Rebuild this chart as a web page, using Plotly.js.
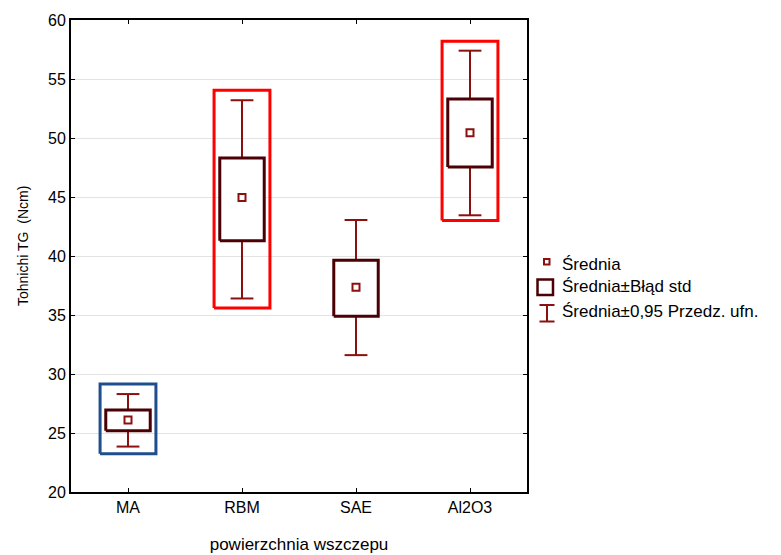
<!DOCTYPE html>
<html>
<head>
<meta charset="utf-8">
<script src="https://cdn.plot.ly/plotly-3.0.1.min.js"></script>
<style>html,body{margin:0;padding:0;background:#fff;}#chart{width:781px;height:555px;}</style>
</head>
<body>
<div id="chart"></div>
<script>
// ---- data ----
const categories = ['MA', 'RBM', 'SAE', 'Al2O3'];
const means  = [26.1, 44.95, 37.35, 50.45];
const seLow  = [25.2, 41.3, 34.9, 47.55];
const seHigh = [26.95, 48.3, 39.65, 53.3];
const ciLow  = [23.85, 36.4, 31.6, 43.45];
const ciHigh = [28.3, 53.2, 43.05, 57.4];
// highlighted groups (frames)
const hlCats = ['MA', 'RBM', 'Al2O3'];
const hlLow  = [23.25, 35.6, 43.0];
const hlHigh = [29.15, 54.05, 58.2];
const legendLabels = ['Średnia', 'Średnia±Błąd std', 'Średnia±0,95 Przedz. ufn.'];
const yTicks = [20, 25, 30, 35, 40, 45, 50, 55, 60];
const xTitle = 'powierzchnia wszczepu';
const yTitle = 'Tohnichi TG  (Ncm)';

// ---- styles ----
const whiskerColor = '#8b1010';
const boxColor = '#4a0005';
const meanColor = '#8b1010';
const hlColors = {MA: '#1f4e8c', RBM: '#ff0000', Al2O3: '#ff0000'};
const boxHalf = 0.195, capHalf = 0.1, hlHalf = 0.245;
const FONT = 'Liberation Sans, Arial, sans-serif';

const idx = categories.map((c, i) => i);

// whiskers
const wx = [], wy = [];
idx.forEach(i => {
  wx.push(i, i, null, i - capHalf, i + capHalf, null, i - capHalf, i + capHalf, null);
  wy.push(ciLow[i], ciHigh[i], null, ciHigh[i], ciHigh[i], null, ciLow[i], ciLow[i], null);
});
// boxes
const bx = [], by = [];
idx.forEach(i => {
  bx.push(i - boxHalf, i + boxHalf, i + boxHalf, i - boxHalf, i - boxHalf, null);
  by.push(seLow[i], seLow[i], seHigh[i], seHigh[i], seLow[i], null);
});

const traces = [
  {x: wx, y: wy, type: 'scatter', mode: 'lines', line: {color: whiskerColor, width: 2}, hoverinfo: 'skip', showlegend: false},
  {x: bx, y: by, type: 'scatter', mode: 'lines', fill: 'toself', fillcolor: '#ffffff', line: {color: boxColor, width: 3}, hoverinfo: 'skip', showlegend: false},
  {x: idx, y: means, type: 'scatter', mode: 'markers', marker: {symbol: 'square-open', size: 7, color: meanColor, line: {width: 2, color: meanColor}}, showlegend: false}
];
// highlight frames
hlCats.forEach((c, k) => {
  const i = categories.indexOf(c);
  traces.push({
    x: [i - hlHalf, i + hlHalf, i + hlHalf, i - hlHalf, i - hlHalf],
    y: [hlLow[k], hlLow[k], hlHigh[k], hlHigh[k], hlLow[k]],
    type: 'scatter', mode: 'lines', line: {color: hlColors[c], width: 3}, hoverinfo: 'skip', showlegend: false
  });
});

// custom legend in pixel -> paper coords
const L = 71, R = 527, T = 20, B = 492;
const px = v => (v - L) / (R - L);
const py = v => (B - v) / (B - T);
const shapes = [
  {type: 'rect', xref: 'paper', yref: 'paper', x0: px(544), x1: px(549.5), y0: py(264.5), y1: py(259), line: {color: meanColor, width: 2}},
  {type: 'rect', xref: 'paper', yref: 'paper', x0: px(537.5), x1: px(553), y0: py(295), y1: py(279.5), line: {color: boxColor, width: 2.5}},
  {type: 'line', xref: 'paper', yref: 'paper', x0: px(547), x1: px(547), y0: py(321.5), y1: py(305), line: {color: whiskerColor, width: 2}},
  {type: 'line', xref: 'paper', yref: 'paper', x0: px(539.5), x1: px(554.5), y0: py(305), y1: py(305), line: {color: whiskerColor, width: 2}},
  {type: 'line', xref: 'paper', yref: 'paper', x0: px(539.5), x1: px(554.5), y0: py(321.5), y1: py(321.5), line: {color: whiskerColor, width: 2}}
];
const legendY = [264, 287, 311];
const annotations = legendLabels.map((t, k) => ({
  text: t, xref: 'paper', yref: 'paper', x: px(560), y: py(legendY[k]), xanchor: 'left', yanchor: 'middle',
  showarrow: false, font: {family: FONT, size: 17, color: '#000'}
}));
annotations.push({
  text: yTitle, xref: 'paper', yref: 'paper', x: px(23), y: py(246), xanchor: 'center', yanchor: 'middle',
  textangle: -90, showarrow: false, font: {family: FONT, size: 14, color: '#000'}
});

const layout = {
  width: 781, height: 555,
  margin: {l: L, r: 781 - R, t: T, b: 555 - B},
  paper_bgcolor: '#fff', plot_bgcolor: '#fff',
  font: {family: FONT, size: 17, color: '#000'},
  showlegend: false,
  xaxis: {
    range: [-0.5, 3.5], tickmode: 'array', tickvals: idx, ticktext: categories,
    showgrid: false, zeroline: false, showline: true, linecolor: '#000', linewidth: 2, mirror: 'allticks',
    ticks: 'inside', ticklen: 4, tickwidth: 1, tickcolor: '#000',
    tickfont: {size: 16},
    title: {text: xTitle, font: {size: 17}, standoff: 23}
  },
  yaxis: {
    range: [20, 60], tickmode: 'array', tickvals: yTicks,
    showgrid: true, gridcolor: '#e3e3e3', gridwidth: 1, zeroline: false,
    showline: true, linecolor: '#000', linewidth: 2, mirror: 'allticks',
    ticks: 'inside', ticklen: 4, tickwidth: 1, tickcolor: '#000',
    tickfont: {size: 16}
  },
  shapes: shapes,
  annotations: annotations
};

Plotly.newPlot('chart', traces, layout, {staticPlot: true});
</script>
</body>
</html>
